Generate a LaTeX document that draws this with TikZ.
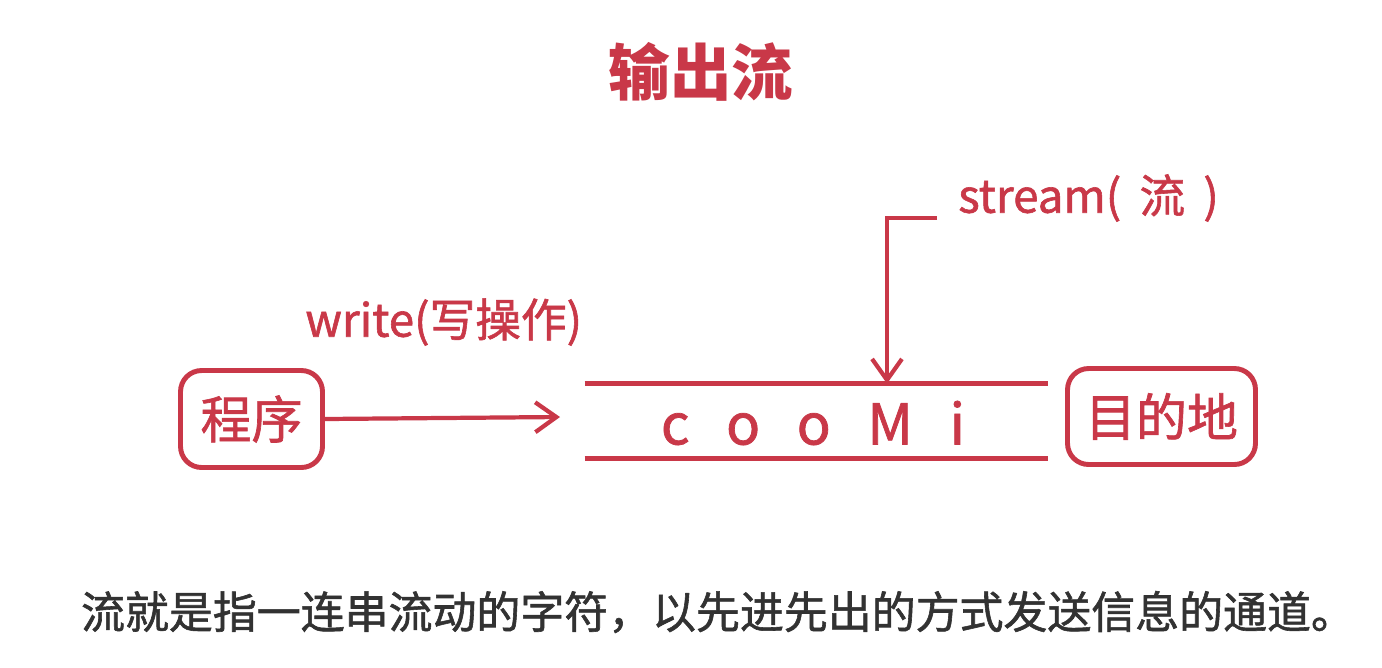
\documentclass[tikz,border=0pt]{standalone}
\usepackage{fontspec}
\setmainfont{Noto Sans CJK SC}
\newfontfamily\heavycjk{Noto Sans CJK SC}[FakeBold=1.3]
\usetikzlibrary{arrows.meta,positioning}
\definecolor{strred}{RGB}{201,56,72}
\definecolor{strgray}{RGB}{50,50,50}

\begin{document}
\begin{tikzpicture}[x=0.02cm,y=-0.02cm,
  endbox/.style={draw=strred,line width=2.8pt,rounded corners=12pt,text=strred,
    font=\heavycjk\fontsize{29}{32}\selectfont,inner sep=0pt},
  pipe/.style={strred,line width=2.8pt},
  flow/.style={strred,line width=2.4pt,-{Straight Barb[length=12pt,width=17pt]}},
  lbl/.style={text=strred,font=\heavycjk\fontsize{26}{30}\selectfont,anchor=west,inner sep=0pt}]
  \useasboundingbox[fill=white] (0,0) rectangle (1382,667);
  % heading
  \node[text=strred,font=\fontsize{35}{40}\selectfont\bfseries] (title) at (701,72) {输出流};
  % source and target
  \node[endbox,minimum width=2.84cm,minimum height=1.94cm] (prog) at (251.5,419) {程序};
  \node[endbox,minimum width=3.76cm,minimum height=1.92cm] (dest) at (1161.5,416.5) {目的地};
  % the stream itself
  \node[minimum width=9.26cm,minimum height=1.48cm,inner sep=0pt] (pipe) at (816.5,421) {};
  \draw[pipe] (pipe.north west) -- (pipe.north east);
  \draw[pipe] (pipe.south west) -- (pipe.south east);
  \node[text=strred,font=\heavycjk\fontsize{32}{36}\selectfont] (chars) at (813,423) {\spaceskip=0.65em c o o M i};
  % write arrow
  \coordinate (inlet) at (560,417);
  \draw[flow] (prog.east) -- (inlet);
  \node[lbl] (write) at (305,322) {write(写操作)};
  % stream label
  \node[lbl] (strm) at (958,198) {\spaceskip=0.4em stream( 流 )};
  \coordinate (stail) at (937,218);
  \coordinate (sbend) at (887,218);
  \draw[flow] (stail) -- (sbend) -- (sbend |- pipe.north);
  % caption
  \node[text=strgray,font=\heavycjk\fontsize{25}{30}\selectfont] (note) at (718,612)
    {流就是指一连串流动的字符，以先进先出的方式发送信息的通道。};
\end{tikzpicture}
\end{document}
